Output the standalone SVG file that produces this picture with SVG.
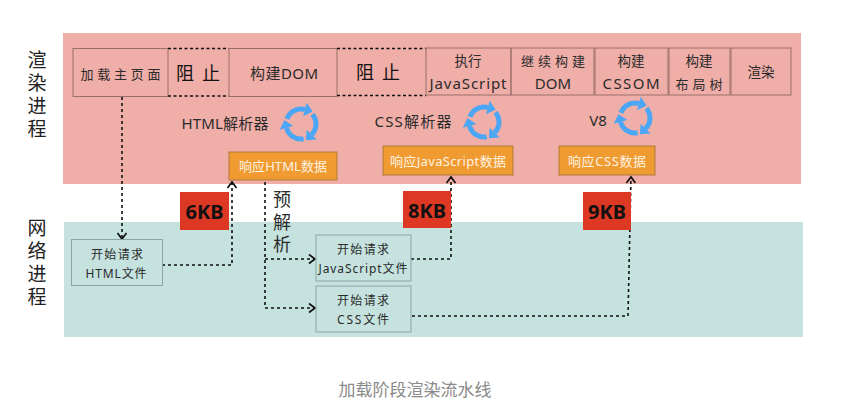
<svg xmlns="http://www.w3.org/2000/svg" width="867" height="418" viewBox="0 0 867 418">
<style>
text{font-family:"Noto Sans","Noto Sans CJK SC",sans-serif;fill:#2b2b2b;text-anchor:middle;font-size:13px}
.box{fill:none;stroke:#9b6f6b;stroke-width:1}
.net{fill:#c5e2df;stroke:#8aa5a3;stroke-width:1}
.org{fill:#f09a32;stroke:#b07a3a;stroke-width:1}
.red{fill:#dd3824}
.kb{font-size:20px;font-weight:700;fill:#111}
.stop{font-size:18px;font-weight:400;fill:#111}
.side{font-family:"Liberation Sans","Noto Sans CJK SC",sans-serif;font-size:19px;fill:#222}
.edge{fill:none;stroke:#111;stroke-width:1.6;stroke-dasharray:3 3}
.dash{stroke:#111;stroke-width:1.6;stroke-dasharray:3 2.5;fill:none}
.cy{fill:none;stroke:#4ba6f5;stroke-width:5}
.l{font-size:15px}
.o{font-size:13px;fill:#fff3e0}
.s{font-size:12px}
.t{font-size:13.500px}
.p{font-size:18px}
</style>
<defs>
<marker id="ah" markerWidth="12" markerHeight="12" refX="8" refY="6" orient="auto" markerUnits="userSpaceOnUse"><path d="M2 1.500L8 6L2 10.500" fill="none" stroke="#111" stroke-width="1.7"/></marker>
<g id="seg"><path class="cy" d="M-14.1-5.1A15 15 0 0 1 3.9-14.5"/><path fill="#4ba6f5" d="M11.6-12.4L5.7-21.3L2.1-7.7Z"/></g>
<g id="cycle"><use href="#seg"/><use href="#seg" transform="rotate(120)"/><use href="#seg" transform="rotate(240)"/></g>
</defs>
<rect width="867" height="418" fill="#fff"/>
<rect id="render-band" x="63" y="33" width="738" height="151" fill="#f0aea8"/>
<rect id="network-band" x="64" y="222" width="739" height="115" fill="#c5e2df"/>
<g id="render-label"><text class="side" x="37" y="67">渲</text><text class="side" x="37" y="90">染</text><text class="side" x="37" y="113">进</text><text class="side" x="37" y="136">程</text></g>
<g id="network-label"><text class="side" x="37" y="235">网</text><text class="side" x="37" y="258">络</text><text class="side" x="37" y="281">进</text><text class="side" x="37" y="304">程</text></g>
<g id="load"><rect class="box" x="73" y="48.500" width="95" height="48"/><text x="120.500" y="79" textLength="80">加载主页面</text></g>
<g id="block1"><path class="dash" d="M168 48.500H229M168 96H229"/><text class="stop" x="198" y="80" textLength="44">阻止</text></g>
<g id="dom"><rect class="box" x="229" y="48.500" width="108" height="48"/><text class="l" x="284" y="79" textLength="68">构建DOM</text></g>
<g id="block2"><path class="dash" d="M337 48.500H426M337 95.500H426"/><text class="stop" x="378" y="79" textLength="44">阻止</text></g>
<g id="js"><rect class="box" x="426" y="48" width="85" height="47"/><text class="t" x="468" y="66">执行</text><text class="l" x="468" y="89" textLength="77">JavaScript</text></g>
<g id="dom2"><rect class="box" x="511" y="48" width="83" height="47"/><text x="553" y="66" textLength="64">继续构建</text><text class="l" x="553" y="89">DOM</text></g>
<g id="cssom"><rect class="box" x="595" y="48" width="73" height="47"/><text class="t" x="631" y="66">构建</text><text class="l" x="631" y="89" textLength="57">CSSOM</text></g>
<g id="layout"><rect class="box" x="669" y="48" width="61" height="47"/><text class="t" x="699" y="66">构建</text><text x="699" y="89" textLength="47">布局树</text></g>
<g id="paint"><rect class="box" x="731" y="48" width="60" height="47"/><text class="t" x="761" y="77">渲染</text></g>
<g id="html-parser"><text class="l" x="225" y="129" textLength="87">HTML解析器</text><use href="#cycle" transform="translate(301 124)"/></g>
<g id="css-parser"><text class="l" x="413" y="127" textLength="77">CSS解析器</text><use href="#cycle" transform="translate(484 122)"/></g>
<g id="v8"><text class="l" x="598" y="126">V8</text><use href="#cycle" transform="translate(635 118)"/></g>
<g id="resp-html"><rect class="org" x="229" y="152" width="108" height="28"/><text class="o" x="283" y="171" textLength="88">响应HTML数据</text></g>
<g id="resp-js"><rect class="org" x="383" y="146" width="130" height="29"/><text class="o" x="448" y="166" textLength="116">响应JavaScript数据</text></g>
<g id="resp-css"><rect class="org" x="559" y="146" width="96" height="29"/><text class="o" x="607" y="166" textLength="78">响应CSS数据</text></g>
<g id="connectors">
<path class="edge" marker-end="url(#ah)" d="M122 97V239"/>
<path class="edge" marker-end="url(#ah)" d="M162 265H232V182"/>
<path class="edge" d="M265 182V308"/>
<path class="edge" marker-end="url(#ah)" d="M265 259H315"/>
<path class="edge" marker-end="url(#ah)" d="M265 308H315"/>
<path class="edge" marker-end="url(#ah)" d="M411 259H451V177"/>
<path class="edge" marker-end="url(#ah)" d="M412 316H628L631 177"/>
</g>
<g id="kb6"><rect class="red" x="180" y="192" width="49" height="38"/><text class="kb" x="204.500" y="219">6KB</text></g>
<g id="kb8"><rect class="red" x="403" y="191" width="48" height="37"/><text class="kb" x="427" y="218">8KB</text></g>
<g id="kb9"><rect class="red" x="583" y="192" width="48" height="38"/><text class="kb" x="607" y="219">9KB</text></g>
<g id="preparse"><text class="p" x="282" y="206">预</text><text class="p" x="282" y="229">解</text><text class="p" x="282" y="251">析</text></g>
<g id="req-html"><rect class="net" x="71.500" y="239.500" width="91" height="46"/><text class="s" x="117" y="259" textLength="52">开始请求</text><text class="s" x="116" y="278" textLength="61">HTML文件</text></g>
<g id="req-js"><rect class="net" x="316" y="235" width="95" height="46"/><text class="s" x="363" y="254" textLength="52">开始请求</text><text class="s" x="363" y="273" textLength="89">JavaScript文件</text></g>
<g id="req-css"><rect class="net" x="316" y="286" width="95" height="46"/><text class="s" x="363" y="305" textLength="52">开始请求</text><text class="s" x="363" y="324" textLength="52">CSS文件</text></g>
<text id="caption" x="415" y="396" style="font-size:17px;fill:#8a8a8a">加载阶段渲染流水线</text>
</svg>
